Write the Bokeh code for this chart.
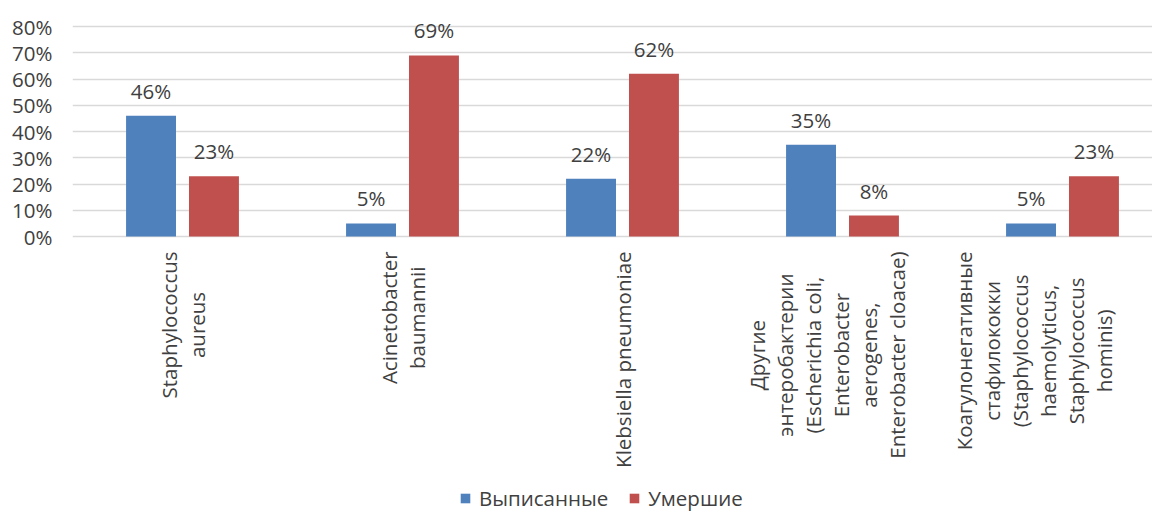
import numpy as np
from bokeh.plotting import figure
from bokeh.models import ColumnDataSource, Range1d, FixedTicker, PrintfTickFormatter, Legend, LegendItem
from bokeh.core.properties import value
from bokeh.embed import file_html
from bokeh.resources import INLINE

categories = [
    "Staphylococcus\naureus",
    "Acinetobacter\nbaumannii",
    "Klebsiella pneumoniae",
    "Другие\nэнтеробактерии\n(Escherichia coli,\nEnterobacter\naerogenes,\nEnterobacter cloacae)",
    "Коагулонегативные\nстафилококки\n(Staphylococcus\nhaemolyticus,\nStaphylococcus\nhominis)",
]
discharged = [46, 5, 22, 35, 5]
died = [23, 69, 62, 8, 23]
series_names = ["Выписанные", "Умершие"]
y_ticks = [0, 10, 20, 30, 40, 50, 60, 70, 80]

BLUE = "#4F81BD"
RED = "#C0504D"
TXT = "#404040"
FONT = "Open Sans"
FS = "20.5px"
label_shift = [0, 0, 0, -16, -29]

idx = np.arange(len(categories)) + 0.5
off = 0.143
bw = 0.227
PX = 2.625          # pixels per percent
TOP_PAD = 20        # room above 80% line
FRAME_H = 486 + TOP_PAD
y_end = 80 + TOP_PAD / PX

src = ColumnDataSource(dict(
    xb=idx - off, xr=idx + off, xc=idx,
    d=discharged, m=died,
    dl=[f"{v}%" for v in discharged], ml=[f"{v}%" for v in died],
    cat=categories, ly=[-5.7] * len(categories), shift=label_shift,
))

p = figure(width=1152, height=26 - TOP_PAD + FRAME_H, output_backend="svg", toolbar_location=None,
           x_range=Range1d(0, 1080 / 220), y_range=Range1d(y_end - FRAME_H / PX, y_end),
           x_axis_location=None, min_border_left=72, min_border_right=0,
           min_border_top=26 - TOP_PAD, min_border_bottom=0)
p.outline_line_color = None
p.xgrid.visible = False
p.ygrid.ticker = FixedTicker(ticks=y_ticks)
p.ygrid.grid_line_color = "#D9D9D9"
p.ygrid.grid_line_width = 1.5

ya = p.yaxis[0]
ya.ticker = FixedTicker(ticks=y_ticks)
ya.formatter = PrintfTickFormatter(format="%d%%")
ya.axis_line_color = None
ya.major_tick_line_color = None
ya.minor_tick_line_color = None
ya.major_tick_out = 0
ya.major_label_standoff = 20
ya.major_label_text_font = FONT
ya.major_label_text_font_size = FS
ya.major_label_text_color = TXT

rb = p.vbar(x="xb", top="d", bottom=0, width=bw, source=src, fill_color=BLUE, line_color=None)
rr = p.vbar(x="xr", top="m", bottom=0, width=bw, source=src, fill_color=RED, line_color=None)

for xc, yc, tc in (("xb", "d", "dl"), ("xr", "m", "ml")):
    p.text(x=xc, y=yc, text=tc, source=src, y_offset=-25,
           text_align="center", text_baseline="alphabetic",
           text_font=value(FONT), text_font_size=FS, text_color=TXT)

p.text(x="xc", y="ly", text="cat", source=src, angle=np.pi / 2, x_offset="shift",
       anchor="center_right", text_align="center", text_baseline="middle",
       text_line_height=1.0,
       text_font=value(FONT), text_font_size=FS, text_color=TXT)

legend = Legend(items=[LegendItem(label=series_names[0], renderers=[rb]),
                       LegendItem(label=series_names[1], renderers=[rr])],
                location=(387, 0), orientation="horizontal",
                glyph_width=12, glyph_height=12, label_standoff=8, spacing=20,
                padding=0, margin=0, label_height=20,
                label_text_font=FONT, label_text_font_size=FS, label_text_color=TXT,
                border_line_alpha=0, background_fill_alpha=0)
p.add_layout(legend)

open("out.html", "w").write(file_html(p, INLINE))
